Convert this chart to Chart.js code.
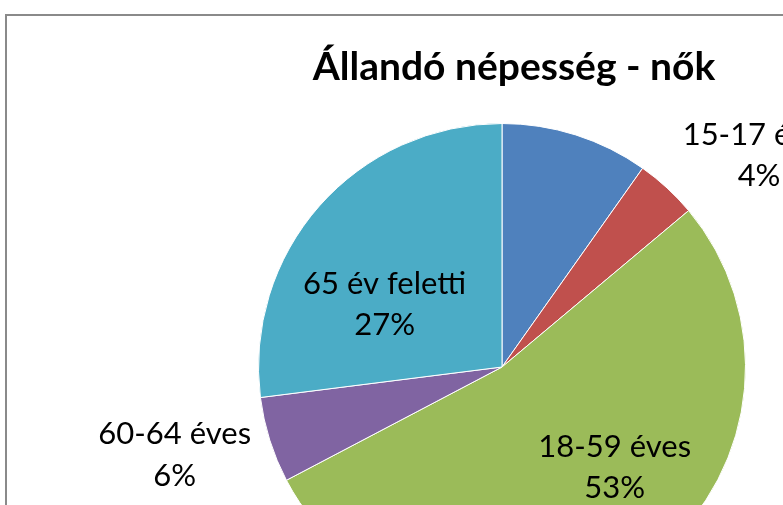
<!DOCTYPE html>
<html>
<head>
<meta charset="utf-8">
<script src="https://cdn.jsdelivr.net/npm/chart.js@4"></script>
<style>
  html, body { margin: 0; padding: 0; width: 783px; height: 505px; overflow: hidden; background: #fff; }
  #frame { position: absolute; left: 5px; top: 14px; width: 1100px; height: 800px; border: 2px solid #8a8a8a; box-sizing: border-box; }
  #wrap { position: absolute; left: 0; top: 0; width: 1100px; height: 800px; }
</style>
</head>
<body>
<div id="frame"></div>
<div id="wrap"><canvas id="c" width="1100" height="800"></canvas></div>
<script>
// ---- data ----
const chartTitle = 'Állandó népesség - nők';
const categories = ['0-14 éves', '15-17 éves', '18-59 éves', '60-64 éves', '65 év feletti'];
const shares = [9.8, 4.1, 53.4, 5.7, 27.0];
const sliceColors = ['#4F81BD', '#C0504D', '#9BBB59', '#8064A2', '#4BACC6'];

// label placement: angle (deg, clockwise from top) and distance as fraction of radius
const labelAngles = [60, 50.4, 131.5, 255.1, 298.4];
const labelDist = [1.9, 1.37, 0.618, 1.391, 0.548];

const FONT = 'Lato, "Open Sans", sans-serif';

const labelPlugin = {
  id: 'sliceLabels',
  afterDatasetsDraw(chart) {
    const ctx = chart.ctx;
    const meta = chart.getDatasetMeta(0);
    const total = shares.reduce((a, b) => a + b, 0);
    ctx.save();
    ctx.fillStyle = '#000';
    ctx.textAlign = 'center';
    ctx.textBaseline = 'alphabetic';
    ctx.font = '31px ' + FONT;
    meta.data.forEach((arc, i) => {
      const r = arc.outerRadius * labelDist[i];
      const a = labelAngles[i] * Math.PI / 180;
      const x = arc.x + r * Math.sin(a);
      const y = arc.y - r * Math.cos(a);
      const pct = Math.round(shares[i] / total * 100) + '%';
      ctx.fillText(categories[i], x, y - 9.75);
      ctx.fillText(pct, x, y + 31.75);
    });
    ctx.font = 'bold 39px ' + FONT;
    ctx.fillText(chartTitle, 514, 80);
    ctx.restore();
  }
};

new Chart(document.getElementById('c'), {
  type: 'pie',
  data: {
    labels: categories,
    datasets: [{
      data: shares,
      backgroundColor: sliceColors,
      borderColor: '#ffffff',
      borderWidth: 1
    }]
  },
  options: {
    responsive: false,
    animation: false,
    layout: { padding: { left: 258, top: 123, right: 354, bottom: 189 } },
    plugins: {
      legend: { display: false },
      tooltip: { enabled: false },
      title: { display: false }
    }
  },
  plugins: [labelPlugin]
});
</script>
</body>
</html>
